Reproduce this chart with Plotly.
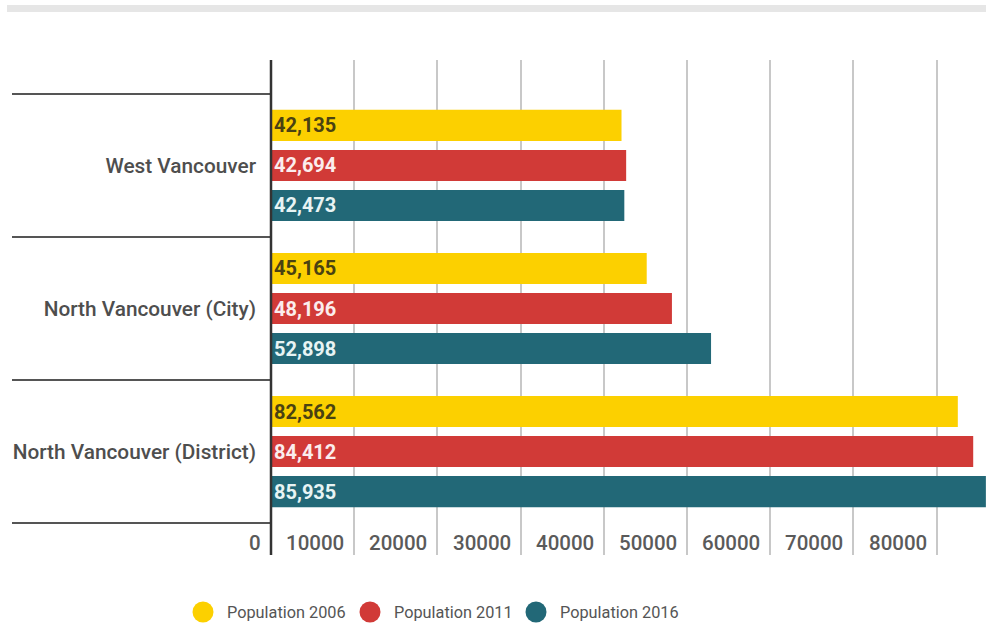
import plotly.graph_objects as go

# ---- data ----
categories = ["West Vancouver", "North Vancouver (City)", "North Vancouver (District)"]
pop_2006 = [42135, 45165, 82562]
pop_2011 = [42694, 48196, 84412]
pop_2016 = [42473, 52898, 85935]
series_names = ["Population 2006", "Population 2011", "Population 2016"]
x_tick_values = [0, 10000, 20000, 30000, 40000, 50000, 60000, 70000, 80000]
x_tick_labels = ["0", "10000", "20000", "30000", "40000", "50000", "60000", "70000", "80000"]

# ---- styles ----
W, H = 986, 628
ML, MR, MT, MB = 271, 0, 60, 73
PW, PH = W - ML - MR, H - MT - MB
XMAX = 85950
YR = [2.723, -0.737]
colors = ["#FCD000", "#D13A37", "#226877"]
text_colors = ["#4A4212", "#FBEDED", "#E8F4F4"]
FONT = "Roboto"

def px_x(p):
    return (p - ML) / PW

def px_y(p):
    return (H - MB - p) / PH

def cat_y(v):
    return (v - YR[0]) / (YR[1] - YR[0])

fig = go.Figure()
for name, vals, c, tc in zip(series_names, [pop_2006, pop_2011, pop_2016], colors, text_colors):
    fig.add_trace(go.Bar(
        name=name, y=categories, x=vals, orientation="h",
        marker=dict(color=c, line=dict(width=0)),
        text=[f"{v:,}" for v in vals], textposition="inside", insidetextanchor="start",
        insidetextfont=dict(family=FONT, size=20, color=tc, weight="bold"),
        cliponaxis=True, showlegend=False, hoverinfo="skip",
    ))

shapes = []
# top gray strip
shapes.append(dict(type="rect", xref="paper", yref="paper",
                   x0=px_x(7), x1=px_x(986), y0=px_y(12), y1=px_y(5),
                   fillcolor="#E6E6E6", line=dict(width=0), layer="below"))
# category separators on the left
for b in [-0.5, 0.5, 1.5, 2.5]:
    shapes.append(dict(type="line", xref="paper", yref="paper",
                       x0=px_x(12), x1=0, y0=cat_y(b), y1=cat_y(b),
                       line=dict(color="#555555", width=2)))
# zero axis line
shapes.append(dict(type="line", xref="paper", yref="paper", x0=0, x1=0, y0=0, y1=1,
                   line=dict(color="#333333", width=2.5), layer="above"))

annotations = []
for v, t in zip(x_tick_values, x_tick_labels):
    annotations.append(dict(x=v, xref="x", y=px_y(543), yref="paper", text=t,
                            showarrow=False, xanchor="right", yanchor="middle", xshift=-8,
                            font=dict(family=FONT, size=20.5, color="#5A5A5A", weight=500)))

# legend (manual circles + labels)
leg_cx = [203, 370, 536]
leg_cy = 612
r = 10.5
for cx, c, name in zip(leg_cx, colors, series_names):
    shapes.append(dict(type="circle", xref="paper", yref="paper",
                       x0=px_x(cx - r), x1=px_x(cx + r), y0=px_y(leg_cy + r), y1=px_y(leg_cy - r),
                       fillcolor=c, line=dict(width=0)))
    annotations.append(dict(x=px_x(cx + 22), xref="paper", y=px_y(leg_cy), yref="paper",
                            text=name, showarrow=False, xanchor="left", yanchor="middle",
                            font=dict(family=FONT, size=16.3, color="#555555")))

fig.update_layout(
    width=W, height=H, margin=dict(l=ML, r=MR, t=MT, b=MB, pad=0),
    paper_bgcolor="white", plot_bgcolor="white",
    barmode="group", bargap=0.16, bargroupgap=0.225,
    xaxis=dict(range=[0, XMAX], tickvals=x_tick_values[1:], showticklabels=False,
               showgrid=True, gridcolor="#C8C8C8", gridwidth=1.5, zeroline=False,
               showline=False, ticks="", fixedrange=True),
    yaxis=dict(range=YR, type="category", showgrid=False, zeroline=False, showline=False,
               ticks="", ticklabelstandoff=14,
               tickfont=dict(family=FONT, size=20.8, color="#4E4E4E", weight=500), fixedrange=True),
    shapes=shapes, annotations=annotations, showlegend=False,
    font=dict(family=FONT),
)

fig.write_html("out.html")
